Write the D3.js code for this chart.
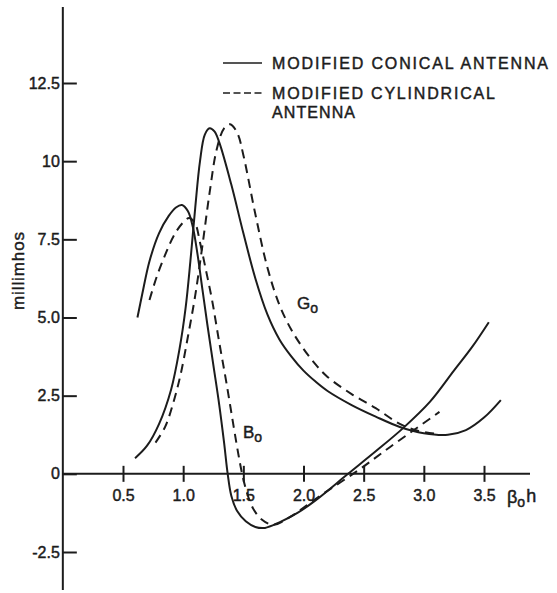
<!DOCTYPE html>
<html>
<head>
<meta charset="utf-8">
<script src="https://cdn.jsdelivr.net/npm/d3@7"></script>
<style>
  body { margin: 0; background: #fff; }
  text { font-family: "Liberation Sans", Arial, sans-serif; fill: #1c1c1c; stroke: #1c1c1c; stroke-width: 0.45px; }
</style>
</head>
<body>
<svg id="chart" width="557" height="593"></svg>
<script>
// values (beta0*h, millimhos)
var conicalG = [[0.6,0.5],[0.7,0.9],[0.8,1.6],[0.9,2.7],[0.97,4.0],[1.02,5.3],[1.06,6.8],
  [1.1,8.5],[1.14,10.0],[1.18,10.85],[1.22,11.05],[1.26,10.95],[1.3,10.6],[1.4,9.25],
  [1.5,7.7],[1.6,6.25],[1.7,5.1],[1.8,4.3],[1.9,3.75],[2.0,3.3],[2.1,2.95],[2.2,2.65],
  [2.4,2.2],[2.6,1.83],[2.8,1.5],[3.0,1.3],[3.2,1.25],[3.35,1.4],[3.5,1.8],[3.64,2.36]];
var cylindricalG = [[0.77,1.0],[0.85,1.5],[0.92,2.3],[0.98,3.2],[1.04,4.4],[1.1,5.7],
  [1.16,7.3],[1.22,9.0],[1.28,10.4],[1.34,11.05],[1.39,11.18],[1.45,10.9],[1.5,10.2],
  [1.6,8.3],[1.7,6.6],[1.8,5.4],[1.9,4.6],[2.0,4.0],[2.1,3.5],[2.2,3.1],[2.4,2.55],
  [2.6,2.1],[2.8,1.6],[2.95,1.38],[3.1,1.28]];
var conicalB = [[0.62,5.0],[0.66,5.75],[0.72,6.8],[0.8,7.7],[0.88,8.25],[0.94,8.52],
  [0.99,8.6],[1.04,8.4],[1.08,7.9],[1.12,7.0],[1.16,5.9],[1.2,4.8],[1.25,3.5],[1.3,2.2],
  [1.34,1.0],[1.37,0],[1.4,-0.7],[1.45,-1.2],[1.52,-1.52],[1.6,-1.7],[1.68,-1.73],
  [1.8,-1.55],[1.95,-1.25],[2.1,-0.85],[2.37,0],[2.6,0.72],[2.83,1.47],[3.05,2.3],
  [3.25,3.3],[3.4,4.05],[3.54,4.85]];
var cylindricalB = [[0.72,5.56],[0.78,6.3],[0.85,7.0],[0.92,7.6],[0.99,8.0],[1.05,8.18],
  [1.1,8.0],[1.14,7.4],[1.19,6.5],[1.24,5.56],[1.3,4.2],[1.36,2.9],[1.42,1.5],[1.46,0.6],
  [1.49,0],[1.53,-0.6],[1.58,-1.1],[1.65,-1.45],[1.75,-1.63],[1.9,-1.35],[2.12,-0.75],
  [2.45,0.1],[2.72,0.86],[3.13,1.98]];

var yTicks = [-2.5, 0, 2.5, 5, 7.5, 10, 12.5];
var yTickLabels = ["-2.5", "0", "2.5", "5.0", "7.5", "10", "12.5"];
var xTicks = [0.5, 1.0, 1.5, 2.0, 2.5, 3.0, 3.5];
var xTickLabels = ["0.5", "1.0", "1.5", "2.0", "2.5", "3.0", "3.5"];
var legendNames = ["MODIFIED  CONICAL  ANTENNA", "MODIFIED  CYLINDRICAL", "ANTENNA"];

var svg = d3.select("#chart");
var ink = "#1c1c1c";

var x = d3.scaleLinear().domain([0.5, 3.5]).range([123, 484]);
var y = d3.scaleLinear().domain([-2.5, 12.5]).range([552, 83]);
var x0 = x(0), y0 = y(0);

// y axis
svg.append("line").attr("x1", x0).attr("x2", x0).attr("y1", 7).attr("y2", 590)
  .attr("stroke", ink).attr("stroke-width", 2);
var yAxis = d3.axisLeft(y).tickValues(yTicks).tickSizeInner(-14).tickSizeOuter(0)
  .tickPadding(3).tickFormat(function(d, i) { return yTickLabels[i]; });
var gy = svg.append("g").attr("transform", "translate(" + x0 + ",0)").call(yAxis);
gy.select(".domain").remove();
gy.selectAll("line").attr("stroke", ink).attr("stroke-width", 2);
gy.selectAll("text").attr("font-size", 16).style("font-family", "Liberation Sans").attr("fill", ink);

// x axis
svg.append("line").attr("x1", x0).attr("x2", 530).attr("y1", y0).attr("y2", y0)
  .attr("stroke", ink).attr("stroke-width", 2);
var xAxis = d3.axisBottom(x).tickValues(xTicks).tickSizeInner(8).tickSizeOuter(0)
  .tickPadding(8).tickFormat(function(d, i) { return xTickLabels[i]; });
var gx = svg.append("g").attr("transform", "translate(0," + y0 + ")").call(xAxis);
gx.select(".domain").remove();
gx.selectAll("line").attr("y1", -8).attr("stroke", ink).attr("stroke-width", 2);
gx.selectAll("text").attr("font-size", 16).style("font-family", "Liberation Sans").attr("fill", ink);

// axis titles
var bl = svg.append("text").attr("x", 507).attr("y", 503).attr("font-size", 18);
bl.append("tspan").text("\u03b2");
bl.append("tspan").attr("dy", 4).attr("font-size", 14).text("o");
bl.append("tspan").attr("dy", -5).attr("dx", 1).text("h");

svg.append("text").attr("transform", "translate(24,271) rotate(-90)")
  .attr("text-anchor", "middle").attr("font-size", 17)
  .attr("textLength", 78).attr("lengthAdjust", "spacing").text("millimhos");

// curves
var line = d3.line()
  .x(function(d) { return x(d[0]); })
  .y(function(d) { return y(d[1]); })
  .curve(d3.curveCatmullRom.alpha(0.5));

var series = [
  { data: conicalG, dash: null },
  { data: cylindricalG, dash: "9,6" },
  { data: conicalB, dash: null },
  { data: cylindricalB, dash: "9,6" }
];
svg.selectAll("path.curve").data(series).enter().append("path")
  .attr("class", "curve")
  .attr("d", function(d) { return line(d.data); })
  .attr("fill", "none")
  .attr("stroke", ink)
  .attr("stroke-width", 2)
  .attr("stroke-dasharray", function(d) { return d.dash; });

// curve labels
var gl = svg.append("text").attr("x", 297).attr("y", 309).attr("font-size", 17);
gl.append("tspan").text("G");
gl.append("tspan").attr("dy", 4).attr("font-size", 14).text("o");
var bLab = svg.append("text").attr("x", 243).attr("y", 438).attr("font-size", 17);
bLab.append("tspan").text("B");
bLab.append("tspan").attr("dy", 4).attr("font-size", 14).text("o");

// legend
svg.append("line").attr("x1", 223).attr("x2", 262).attr("y1", 63).attr("y2", 63)
  .attr("stroke", ink).attr("stroke-width", 1.5);
svg.append("line").attr("x1", 223).attr("x2", 262).attr("y1", 93).attr("y2", 93)
  .attr("stroke", ink).attr("stroke-width", 1.5).attr("stroke-dasharray", "7,3.5");
var legendPos = [[63, 276], [93, 223], [112, 83]];
legendNames.forEach(function(t, i) {
  svg.append("text").attr("x", 272).attr("y", legendPos[i][0] + 6)
    .attr("font-size", 16).attr("textLength", legendPos[i][1])
    .attr("lengthAdjust", "spacing").text(t);
});
</script>
</body>
</html>
